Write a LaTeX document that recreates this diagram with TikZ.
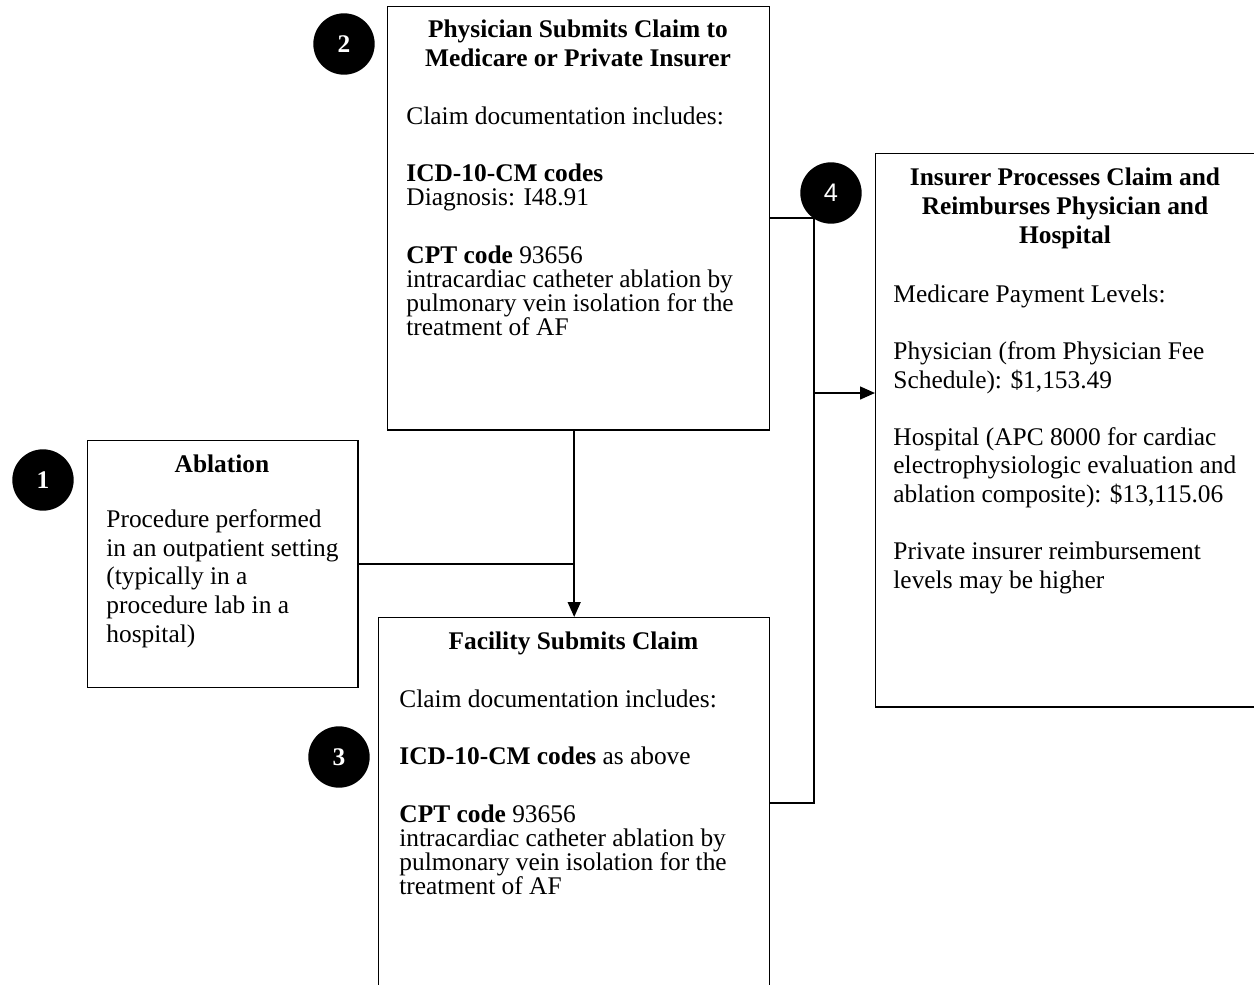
\documentclass[tikz,border=0pt]{standalone}
\usepackage{fontspec}
\setmainfont{Liberation Serif}
\newfontfamily\numsans{Liberation Sans}
\usetikzlibrary{arrows.meta}
\begin{document}
\begin{tikzpicture}[x=0.4725pt,y=-0.4725pt,
  box/.style={draw=black,line width=0.7pt,inner sep=0pt,anchor=north west},
  num/.style={circle,fill=black,text=white,inner sep=0pt,minimum size=29pt,font=\fontsize{12pt}{14pt}\selectfont\bfseries},
  ttl/.style={inner sep=0pt,align=center,anchor=base,font=\fontsize{12pt}{13.7pt}\selectfont\bfseries},
  bodyA/.style={inner sep=0pt,align=left,anchor=base west,font=\fontsize{12pt}{11.34pt}\selectfont},
  bodyB/.style={inner sep=0pt,align=left,anchor=base west,font=\fontsize{12pt}{13.5pt}\selectfont},
  conn/.style={line width=0.9pt},
  arr/.style={conn,-{Triangle[length=7pt,width=6pt]}}]
\useasboundingbox (0,0) rectangle (1254,984);
% boxes
\node[box,minimum width=180.5pt,minimum height=199.9pt] (b2) at (387,6) {};
\node[box,minimum width=127.6pt,minimum height=116.6pt] (b1) at (87,440) {};
\node[box,minimum width=184.7pt,minimum height=175pt] (b3) at (378,617) {};
\node[box,minimum width=179.6pt,minimum height=261.3pt] (b4) at (875,153) {};
% numbered circles
\node[num] (n1) at (43,480) {1};
\node[num] (n2) at (344,44) {2};
\node[num] (n3) at (339,757) {3};
\node[num,font=\fontsize{12pt}{14pt}\selectfont\numsans] (n4) at (831,193) {4};
% titles (anchored at the baseline of the last line)
\node[ttl] (t2) at (578,66) {Physician Submits Claim to\\Medicare or Private Insurer};
\node[ttl] (t1) at (222,472) {Ablation};
\node[ttl] (t3) at (573.5,649) {Facility Submits Claim};
\node[ttl] (t4) at (1065,243) {Insurer Processes Claim and\\Reimburses Physician and\\Hospital};
% bodies (anchored at the baseline of the last line)
\node[bodyA] (d2) at (406,335) {Claim documentation includes:\\[16pt]
\textbf{ICD-10-CM codes}\\
Diagnosis: I48.91\\[15.6pt]
\textbf{CPT code} 93656\\
intracardiac catheter ablation by\\
pulmonary vein isolation for the\\
treatment of AF};
\node[bodyA] (d3) at (399,894) {Claim documentation includes:\\[16pt]
\textbf{ICD-10-CM codes} as above\\[15.6pt]
\textbf{CPT code} 93656\\
intracardiac catheter ablation by\\
pulmonary vein isolation for the\\
treatment of AF};
\node[bodyB] (d1) at (106,642) {Procedure performed\\
in an outpatient setting\\
(typically in a\\
procedure lab in a\\
hospital)};
\node[bodyB] (d4) at (893,588) {Medicare Payment Levels:\\[13.5pt]
Physician (from Physician Fee\\
Schedule): \$1,153.49\\[13.5pt]
Hospital (APC 8000 for cardiac\\
electrophysiologic evaluation and\\
ablation composite): \$13,115.06\\[13.5pt]
Private insurer reimbursement\\
levels may be higher};
% connectors
\coordinate (bus) at (814,393);
\draw[arr] (b2.south -| b3.north) -- (b3.north);
\draw[conn] (b1.east) -- (b1.east -| b3.north);
\draw[conn] (b2.east) -| (bus) |- (b3.east);
\draw[arr] (bus) -- (bus -| b4.west);
\end{tikzpicture}
\end{document}
